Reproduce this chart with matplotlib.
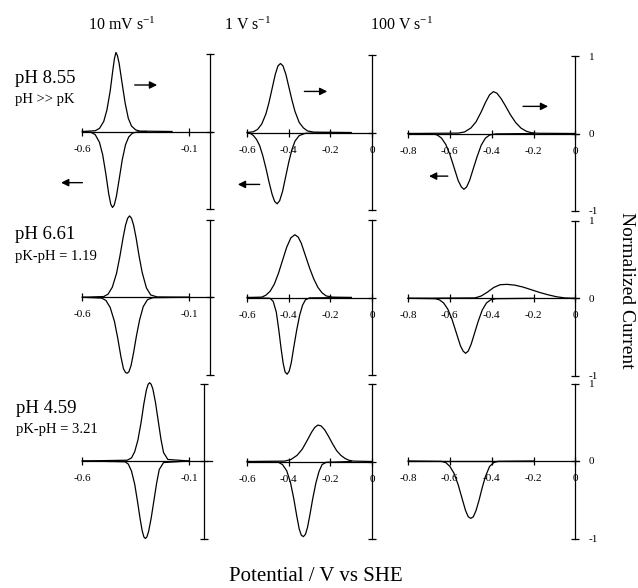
import matplotlib
matplotlib.use('Agg')
import matplotlib.pyplot as plt
from matplotlib.ticker import FixedLocator, FixedFormatter

plt.rcParams['font.family'] = ['Liberation Serif', 'DejaVu Serif']
plt.rcParams['mathtext.fontset'] = 'custom'
plt.rcParams['mathtext.rm'] = 'Liberation Serif'
plt.rcParams['mathtext.it'] = 'Liberation Serif:italic'
plt.rcParams['axes.unicode_minus'] = False

# ---------------- data (potential / V vs SHE, normalized current) ----------------
scan_rates = ['10 mV s$^{-1}$', '1 V s$^{-1}$', '100 V s$^{-1}$']
row_ph = ['pH 8.55', 'pH 6.61', 'pH 4.59']
row_sub = ['pH >> pK', 'pK-pH = 1.19', 'pK-pH = 3.21']

col_xticks = [[-0.6, -0.1], [-0.6, -0.4, -0.2, 0.0], [-0.8, -0.6, -0.4, -0.2, 0.0]]
col_xticklabels = [['-0.6', '-0.1'], ['-0.6', '-0.4', '-0.2', '0'],
                   ['-0.8', '-0.6', '-0.4', '-0.2', '0']]
yticks = [-1, 0, 1]
yticklabels = ['-1', '0', '1']

# row 1 : pH 8.55
r1c1_ox_E = [-0.60, -0.54, -0.52, -0.50, -0.485, -0.47, -0.458, -0.45, -0.443, -0.436, -0.428, -0.415, -0.40, -0.385, -0.37, -0.35, -0.33, -0.18]
r1c1_ox_I = [0, 0.01, 0.04, 0.13, 0.28, 0.52, 0.78, 0.94, 1.02, 0.98, 0.88, 0.64, 0.37, 0.17, 0.07, 0.02, 0.005, 0]
r1c1_red_E = [-0.60, -0.56, -0.54, -0.52, -0.505, -0.49, -0.477, -0.467, -0.459, -0.451, -0.441, -0.428, -0.413, -0.398, -0.383, -0.365, -0.34, -0.30]
r1c1_red_I = [0, -0.01, -0.04, -0.14, -0.30, -0.55, -0.80, -0.94, -0.98, -0.95, -0.84, -0.62, -0.36, -0.17, -0.07, -0.02, -0.005, 0]

r1c2_ox_E = [-0.60, -0.57, -0.55, -0.53, -0.51, -0.495, -0.48, -0.465, -0.452, -0.44, -0.428, -0.414, -0.40, -0.385, -0.37, -0.35, -0.33, -0.31, -0.28, -0.10]
r1c2_ox_I = [0, 0.01, 0.04, 0.11, 0.24, 0.39, 0.57, 0.75, 0.86, 0.89, 0.86, 0.75, 0.59, 0.42, 0.27, 0.13, 0.06, 0.02, 0.005, 0]
r1c2_red_E = [-0.60, -0.585, -0.57, -0.555, -0.54, -0.525, -0.51, -0.495, -0.48, -0.468, -0.456, -0.444, -0.43, -0.415, -0.40, -0.385, -0.37, -0.35, -0.32, -0.20]
r1c2_red_I = [0, -0.01, -0.04, -0.09, -0.17, -0.30, -0.46, -0.64, -0.80, -0.89, -0.92, -0.88, -0.76, -0.57, -0.38, -0.22, -0.11, -0.04, -0.01, 0]

r1c3_ox_E = [-0.80, -0.56, -0.53, -0.50, -0.475, -0.45, -0.43, -0.41, -0.392, -0.375, -0.355, -0.335, -0.31, -0.285, -0.26, -0.235, -0.21, -0.18, 0.0]
r1c3_ox_I = [0, 0.005, 0.02, 0.07, 0.15, 0.28, 0.40, 0.50, 0.54, 0.52, 0.45, 0.36, 0.24, 0.14, 0.07, 0.03, 0.01, 0.003, 0]
r1c3_red_E = [-0.80, -0.68, -0.66, -0.64, -0.62, -0.60, -0.58, -0.56, -0.545, -0.533, -0.52, -0.505, -0.49, -0.47, -0.45, -0.43, -0.41, -0.38, -0.20]
r1c3_red_I = [0, -0.005, -0.02, -0.06, -0.14, -0.27, -0.44, -0.61, -0.69, -0.72, -0.69, -0.60, -0.47, -0.30, -0.15, -0.06, -0.02, -0.005, 0]

# row 2 : pH 6.61
r2c1_ox_E = [-0.60, -0.50, -0.48, -0.46, -0.44, -0.425, -0.41, -0.398, -0.388, -0.379, -0.37, -0.36, -0.348, -0.335, -0.32, -0.30, -0.28, -0.25, -0.10]
r2c1_ox_I = [0, 0.01, 0.04, 0.13, 0.31, 0.52, 0.76, 0.93, 1.02, 1.05, 1.02, 0.93, 0.76, 0.54, 0.32, 0.12, 0.03, 0.005, 0]
r2c1_red_E = [-0.60, -0.51, -0.49, -0.47, -0.45, -0.435, -0.42, -0.408, -0.398, -0.39, -0.382, -0.372, -0.36, -0.347, -0.332, -0.315, -0.295, -0.27, -0.10]
r2c1_red_I = [0, -0.01, -0.04, -0.13, -0.31, -0.52, -0.76, -0.92, -0.97, -0.98, -0.96, -0.88, -0.71, -0.50, -0.29, -0.12, -0.03, -0.005, 0]

r2c2_ox_E = [-0.60, -0.53, -0.51, -0.49, -0.47, -0.45, -0.43, -0.41, -0.39, -0.371, -0.355, -0.34, -0.32, -0.30, -0.28, -0.26, -0.24, -0.22, -0.19, -0.10]
r2c2_ox_I = [0, 0.005, 0.03, 0.08, 0.17, 0.31, 0.48, 0.65, 0.77, 0.81, 0.78, 0.70, 0.54, 0.38, 0.24, 0.13, 0.06, 0.02, 0.005, 0]
r2c2_red_E = [-0.60, -0.49, -0.475, -0.46, -0.448, -0.437, -0.427, -0.418, -0.408, -0.398, -0.388, -0.376, -0.362, -0.348, -0.334, -0.32, -0.30, -0.10]
r2c2_red_I = [0, -0.01, -0.05, -0.19, -0.42, -0.66, -0.85, -0.96, -0.99, -0.95, -0.84, -0.64, -0.42, -0.23, -0.10, -0.03, -0.005, 0]

r2c3_ox_E = [-0.80, -0.48, -0.45, -0.42, -0.39, -0.36, -0.327, -0.29, -0.25, -0.21, -0.17, -0.13, -0.09, -0.05, 0.0]
r2c3_ox_I = [0, 0.005, 0.03, 0.08, 0.14, 0.175, 0.18, 0.17, 0.145, 0.11, 0.075, 0.045, 0.02, 0.005, 0]
r2c3_red_E = [-0.80, -0.67, -0.65, -0.63, -0.61, -0.59, -0.57, -0.55, -0.537, -0.525, -0.512, -0.498, -0.482, -0.465, -0.445, -0.425, -0.405, -0.38, -0.20]
r2c3_red_I = [0, -0.005, -0.02, -0.06, -0.14, -0.27, -0.44, -0.61, -0.68, -0.71, -0.68, -0.59, -0.45, -0.30, -0.15, -0.06, -0.02, -0.005, 0]

# row 3 : pH 4.59
r3c1_ox_E = [-0.60, -0.39, -0.37, -0.355, -0.34, -0.325, -0.312, -0.30, -0.292, -0.285, -0.278, -0.27, -0.258, -0.245, -0.232, -0.22, -0.20, -0.10]
r3c1_ox_I = [0, 0.01, 0.04, 0.12, 0.27, 0.50, 0.74, 0.92, 0.99, 1.01, 0.99, 0.93, 0.76, 0.52, 0.28, 0.11, 0.02, 0]
r3c1_red_E = [-0.60, -0.40, -0.385, -0.37, -0.355, -0.342, -0.33, -0.32, -0.312, -0.305, -0.298, -0.29, -0.278, -0.265, -0.252, -0.24, -0.22, -0.10]
r3c1_red_I = [0, -0.01, -0.04, -0.13, -0.30, -0.52, -0.74, -0.90, -0.98, -1.0, -0.98, -0.91, -0.74, -0.51, -0.28, -0.11, -0.02, 0]

r3c2_ox_E = [-0.60, -0.42, -0.39, -0.36, -0.335, -0.31, -0.29, -0.275, -0.26, -0.245, -0.228, -0.21, -0.19, -0.17, -0.15, -0.13, -0.11, -0.09, 0.0]
r3c2_ox_I = [0, 0.005, 0.025, 0.08, 0.16, 0.28, 0.38, 0.44, 0.47, 0.46, 0.41, 0.33, 0.23, 0.14, 0.08, 0.04, 0.015, 0.005, 0]
r3c2_red_E = [-0.60, -0.45, -0.43, -0.41, -0.392, -0.376, -0.362, -0.35, -0.34, -0.33, -0.32, -0.31, -0.298, -0.285, -0.27, -0.255, -0.24, -0.22, -0.10]
r3c2_red_I = [0, -0.01, -0.04, -0.12, -0.27, -0.48, -0.70, -0.87, -0.95, -0.97, -0.94, -0.85, -0.68, -0.48, -0.28, -0.13, -0.04, -0.01, 0]

r3c3_ox_E = [-0.80, -0.20]
r3c3_ox_I = [0, 0]
r3c3_red_E = [-0.80, -0.64, -0.62, -0.60, -0.58, -0.56, -0.54, -0.525, -0.512, -0.50, -0.488, -0.475, -0.46, -0.445, -0.43, -0.41, -0.39, -0.37, -0.20]
r3c3_red_I = [0, -0.005, -0.02, -0.07, -0.16, -0.31, -0.50, -0.64, -0.72, -0.74, -0.72, -0.64, -0.50, -0.34, -0.20, -0.07, -0.02, -0.005, 0]

panels = [
    [(r1c1_ox_E, r1c1_ox_I, r1c1_red_E, r1c1_red_I),
     (r1c2_ox_E, r1c2_ox_I, r1c2_red_E, r1c2_red_I),
     (r1c3_ox_E, r1c3_ox_I, r1c3_red_E, r1c3_red_I)],
    [(r2c1_ox_E, r2c1_ox_I, r2c1_red_E, r2c1_red_I),
     (r2c2_ox_E, r2c2_ox_I, r2c2_red_E, r2c2_red_I),
     (r2c3_ox_E, r2c3_ox_I, r2c3_red_E, r2c3_red_I)],
    [(r3c1_ox_E, r3c1_ox_I, r3c1_red_E, r3c1_red_I),
     (r3c2_ox_E, r3c2_ox_I, r3c2_red_E, r3c2_red_I),
     (r3c3_ox_E, r3c3_ox_I, r3c3_red_E, r3c3_red_I)],
]

# ---------------- layout (pixels) ----------------
W, H = 638, 588
fig = plt.figure(figsize=(W / 100, H / 100), dpi=100)

col_x0 = [210.5, 372.0, 575.3]       # pixel of 0 V
col_scale = [213.5, 208.0, 209.0]    # pixels per volt
col_xlim = [(-0.72, 0.08), (-0.68, 0.06), (-0.86, 0.12)]
col_xstart = [-0.6, -0.6, -0.8]
col_xend = [0.005, 0.0, 0.02]
row_y0 = [[131.5, 132.5, 133.5], [297.3, 297.5, 298.3], [461.0, 461.5, 461.0]]
unit = 77.5
ylim = (-1.3, 1.3)
yaxis_pos = [[0, 0, 0], [0, 0, 0], [-0.03, 0, 0]]

LW = 0.9
axes = {}
for r in range(3):
    for c in range(3):
        xl = col_xlim[c]
        left = col_x0[c] + xl[0] * col_scale[c]
        width = (xl[1] - xl[0]) * col_scale[c]
        top = row_y0[r][c] - ylim[1] * unit
        height = (ylim[1] - ylim[0]) * unit
        ax = fig.add_axes([left / W, 1 - (top + height) / H, width / W, height / H])
        ax.set_facecolor('none')
        ax.set_xlim(xl)
        ax.set_ylim(ylim)
        ax.spines['top'].set_visible(False)
        if c == 2:
            ax.spines['left'].set_visible(False)
            vs = ax.spines['right']
            ax.yaxis.set_ticks_position('right')
        else:
            ax.spines['right'].set_visible(False)
            vs = ax.spines['left']
            ax.yaxis.set_ticks_position('left')
        vs.set_position(('data', yaxis_pos[r][c]))
        vs.set_bounds(-1, 1)
        vs.set_linewidth(LW)
        bs = ax.spines['bottom']
        bs.set_position(('data', 0))
        bs.set_bounds(col_xstart[c], col_xend[c])
        bs.set_linewidth(LW)
        ax.xaxis.set_ticks_position('bottom')
        ax.xaxis.set_major_locator(FixedLocator(col_xticks[c]))
        ax.xaxis.set_major_formatter(FixedFormatter(col_xticklabels[c]))
        ax.yaxis.set_major_locator(FixedLocator(yticks))
        ax.yaxis.set_major_formatter(FixedFormatter(yticklabels))
        ax.tick_params(axis='both', direction='inout', length=6, width=LW,
                       labelsize=8, pad=6.5)
        if c != 2:
            ax.tick_params(axis='y', labelleft=False)
        oxE, oxI, redE, redI = panels[r][c]
        ax.plot(oxE, oxI, color='black', lw=LW)
        ax.plot(redE, redI, color='black', lw=LW)
        axes[(r, c)] = ax

# scan direction arrows (top row), in data coordinates
arrow_right = [(-0.355, -0.25, 0.60), (-0.325, -0.215, 0.53), (-0.25, -0.13, 0.35)]
arrow_left = [(-0.60, -0.70, -0.66), (-0.54, -0.645, -0.67), (-0.61, -0.70, -0.55)]
for c in range(3):
    ax = axes[(0, c)]
    x1, x2, y = arrow_right[c]
    ax.annotate('', xy=(x2, y), xytext=(x1, y),
                arrowprops=dict(arrowstyle='-|>', lw=1.0, color='black',
                                mutation_scale=11, shrinkA=0, shrinkB=0))
    x1, x2, y = arrow_left[c]
    ax.annotate('', xy=(x2, y), xytext=(x1, y),
                arrowprops=dict(arrowstyle='-|>', lw=1.0, color='black',
                                mutation_scale=11, shrinkA=0, shrinkB=0),
                annotation_clip=False)


def fx(px):
    return px / W


def fy(py):
    return 1 - py / H


title_x = [122, 248, 402]
for c in range(3):
    fig.text(fx(title_x[c]), fy(29.5), scan_rates[c], ha='center', va='baseline', fontsize=11.5)

ph_base = [82.7, 239.3, 413.3]
sub_base = [103.3, 260.0, 433.3]
ph_x = [15, 15, 16.5]
for r in range(3):
    fig.text(fx(ph_x[r]), fy(ph_base[r]), row_ph[r], ha='left', va='baseline', fontsize=13.5)
    fig.text(fx(ph_x[r]), fy(sub_base[r]), row_sub[r], ha='left', va='baseline', fontsize=10.5)

fig.text(fx(627), fy(290), 'Normalized Current', rotation=-90, ha='center', va='center', fontsize=14)
fig.text(fx(316), fy(581), 'Potential / V vs SHE', ha='center', va='baseline', fontsize=15)

fig.savefig('out.png', dpi=100)
